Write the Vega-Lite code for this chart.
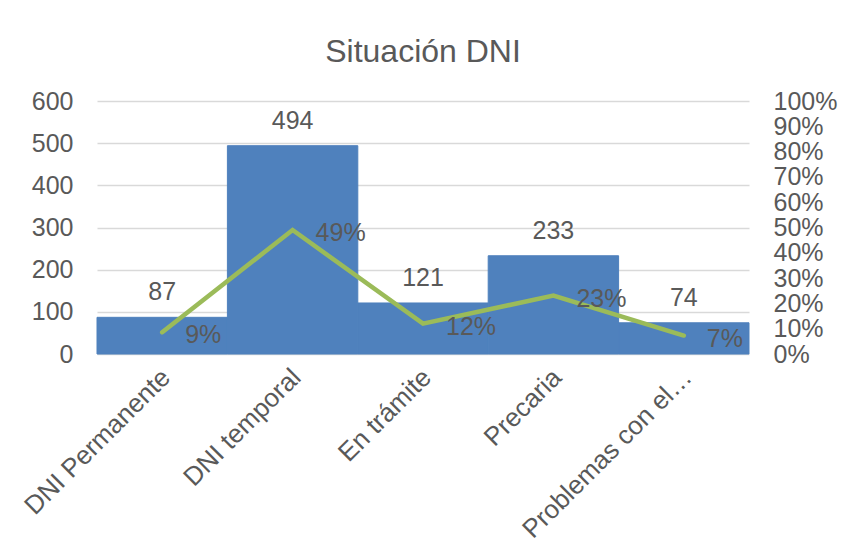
{
  "$schema": "https://vega.github.io/schema/vega-lite/v6.json",
  "width": 652,
  "height": 253,
  "autosize": {"type": "none"},
  "padding": {"left": 97, "top": 101, "right": 97, "bottom": 195},
  "background": "white",
  "config": {
    "view": {"stroke": null},
    "font": "Liberation Sans",
    "axis": {"labelFont": "Liberation Sans", "labelColor": "#595959", "titleColor": "#595959", "labelOverlap": false},
    "text": {"font": "Liberation Sans"}
  },
  "title": {
    "text": "Situación DNI",
    "font": "Liberation Sans",
    "fontSize": 32,
    "fontWeight": "normal",
    "color": "#595959",
    "anchor": "middle",
    "baseline": "alphabetic",
    "offset": 36,
    "dy": 41
  },
  "data": {
    "values": [
      {"categoria": "DNI Permanente", "cantidad": 87, "porcentaje": 0.086},
      {"categoria": "DNI temporal", "cantidad": 494, "porcentaje": 0.49},
      {"categoria": "En trámite", "cantidad": 121, "porcentaje": 0.12},
      {"categoria": "Precaria", "cantidad": 233, "porcentaje": 0.231},
      {"categoria": "Problemas con el…", "cantidad": 74, "porcentaje": 0.073}
    ]
  },
  "encoding": {
    "x": {
      "field": "categoria",
      "type": "nominal",
      "sort": null,
      "scale": {"paddingInner": 0, "paddingOuter": 0},
      "axis": {
        "title": null,
        "labelAngle": -45,
        "labelAlign": "right",
        "labelBaseline": "middle",
        "labelFontSize": 26,
        "labelPadding": 19,
        "labelOffset": 4,
        "ticks": false,
        "domain": false,
        "labelLimit": 400
      }
    }
  },
  "layer": [
    {
      "layer": [
        {
          "mark": {"type": "bar", "color": "#4F81BD", "stroke": "#4F81BD", "strokeWidth": 1},
          "encoding": {
            "y": {
              "field": "cantidad",
              "type": "quantitative",
              "scale": {"domain": [0, 600], "nice": false},
              "axis": {
                "title": null,
                "orient": "left",
                "values": [0, 100, 200, 300, 400, 500, 600],
                "labelFontSize": 25,
                "labelPadding": 24,
                "ticks": false,
                "domain": false,
                "gridColor": "#D9D9D9",
                "gridWidth": 1.5
              }
            }
          }
        },
        {
          "mark": {"type": "text", "fontSize": 25, "color": "#595959", "baseline": "middle", "dy": -25},
          "encoding": {
            "y": {"field": "cantidad", "type": "quantitative"},
            "text": {"field": "cantidad", "type": "quantitative"}
          }
        }
      ]
    },
    {
      "layer": [
        {
          "mark": {"type": "line", "color": "#9BBB59", "strokeWidth": 4.5, "strokeCap": "round", "strokeJoin": "miter"},
          "encoding": {
            "y": {
              "field": "porcentaje",
              "type": "quantitative",
              "scale": {"domain": [0, 1], "nice": false},
              "axis": {
                "title": null,
                "orient": "right",
                "format": ".0%",
                "values": [0, 0.1, 0.2, 0.3, 0.4, 0.5, 0.6, 0.7, 0.8, 0.9, 1],
                "labelFontSize": 25,
                "labelPadding": 24,
                "labelOverlap": false,
                "ticks": false,
                "domain": false,
                "grid": false
              }
            }
          }
        },
        {
          "mark": {"type": "text", "fontSize": 25, "color": "#595959", "align": "left", "baseline": "middle", "dx": 23, "dy": 3},
          "encoding": {
            "y": {
              "field": "porcentaje",
              "type": "quantitative",
              "axis": {
                "title": null,
                "orient": "right",
                "format": ".0%",
                "values": [0, 0.1, 0.2, 0.3, 0.4, 0.5, 0.6, 0.7, 0.8, 0.9, 1],
                "labelFontSize": 25,
                "labelPadding": 24,
                "labelOverlap": false,
                "ticks": false,
                "domain": false,
                "grid": false
              }
            },
            "text": {"field": "porcentaje", "type": "quantitative", "format": ".0%"}
          }
        }
      ]
    }
  ],
  "resolve": {"scale": {"y": "independent"}}
}
